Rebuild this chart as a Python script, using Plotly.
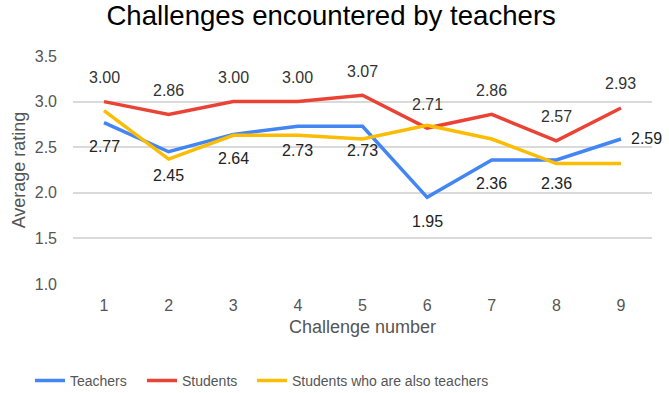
import plotly.graph_objects as go

# Challenge ratings by respondent group
challenges = [1, 2, 3, 4, 5, 6, 7, 8, 9]
teachers = [2.77, 2.45, 2.64, 2.73, 2.73, 1.95, 2.36, 2.36, 2.59]
students = [3.00, 2.86, 3.00, 3.00, 3.07, 2.71, 2.86, 2.57, 2.93]
student_teachers = [2.90, 2.37, 2.63, 2.63, 2.59, 2.74, 2.59, 2.32, 2.32]
y_ticks = [1.0, 1.5, 2.0, 2.5, 3.0, 3.5]

FONT = "Liberation Sans, Arial, sans-serif"
BLUE = "#4285F4"
RED = "#EA4335"
YELLOW = "#FBBC04"

series = [
    ("Teachers", teachers, BLUE, "legend", -0.0743),
    ("Students", students, RED, "legend2", 0.1192),
    ("Students who are also teachers", student_teachers, YELLOW, "legend3", 0.3092),
]

fig = go.Figure()
for name, vals, color, leg, _ in series:
    fig.add_trace(go.Scatter(
        x=challenges, y=vals, name=name, mode="lines",
        line=dict(color=color, width=3.5),
        legend=leg, hoverinfo="x+y+name",
    ))

annotations = []
# Student values sit above their points
for x, v in zip(challenges, students):
    annotations.append(dict(x=x, y=v, text=f"{v:.2f}", showarrow=False,
                            yshift=24, font=dict(size=16, color="#333333", family=FONT)))
# Teacher values sit below, the last one to the right
for i, (x, v) in enumerate(zip(challenges, teachers)):
    last = i == len(challenges) - 1
    annotations.append(dict(x=x, y=v, text=f"{v:.2f}", showarrow=False,
                            yshift=0 if last else -24,
                            xshift=26 if last else 0,
                            font=dict(size=16, color="#222222", family=FONT)))

legend_style = dict(orientation="h", xanchor="left", y=-0.425, yanchor="middle",
                    font=dict(size=14, color="#555555"), bgcolor="rgba(0,0,0,0)")

fig.update_layout(
    width=669, height=393,
    margin=dict(l=73, r=17, t=56, b=109, autoexpand=False),
    paper_bgcolor="white", plot_bgcolor="white",
    font=dict(family=FONT, color="#666666"),
    title=dict(text="Challenges encountered by teachers", x=0.495, xanchor="center",
               y=0.985, yanchor="top",
               font=dict(size=27.6, color="#000000", family=FONT)),
    xaxis=dict(
        range=[0.52, 9.48], tickvals=challenges, ticktext=[str(c) for c in challenges],
        showgrid=False, zeroline=False, showline=False, ticks="", automargin=False,
        ticklabelstandoff=10,
        tickfont=dict(size=16, color="#555555"),
        title=dict(text="Challenge number", font=dict(size=18, color="#555555"), standoff=7),
    ),
    yaxis=dict(
        range=[1.0, 3.5], tickvals=y_ticks, ticktext=[f"{t:.1f}" for t in y_ticks],
        showgrid=True, gridcolor="#DADADA", gridwidth=1.5, zeroline=False,
        showline=False, ticks="", ticklabelstandoff=15, automargin=False,
        tickfont=dict(size=16, color="#555555"),
        title=dict(text="Average rating", font=dict(size=18, color="#555555"), standoff=4),
    ),
    legend=dict(x=series[0][4], **legend_style),
    legend2=dict(x=series[1][4], **legend_style),
    legend3=dict(x=series[2][4], **legend_style),
    annotations=annotations,
    showlegend=True,
)

fig.write_html("out.html")
